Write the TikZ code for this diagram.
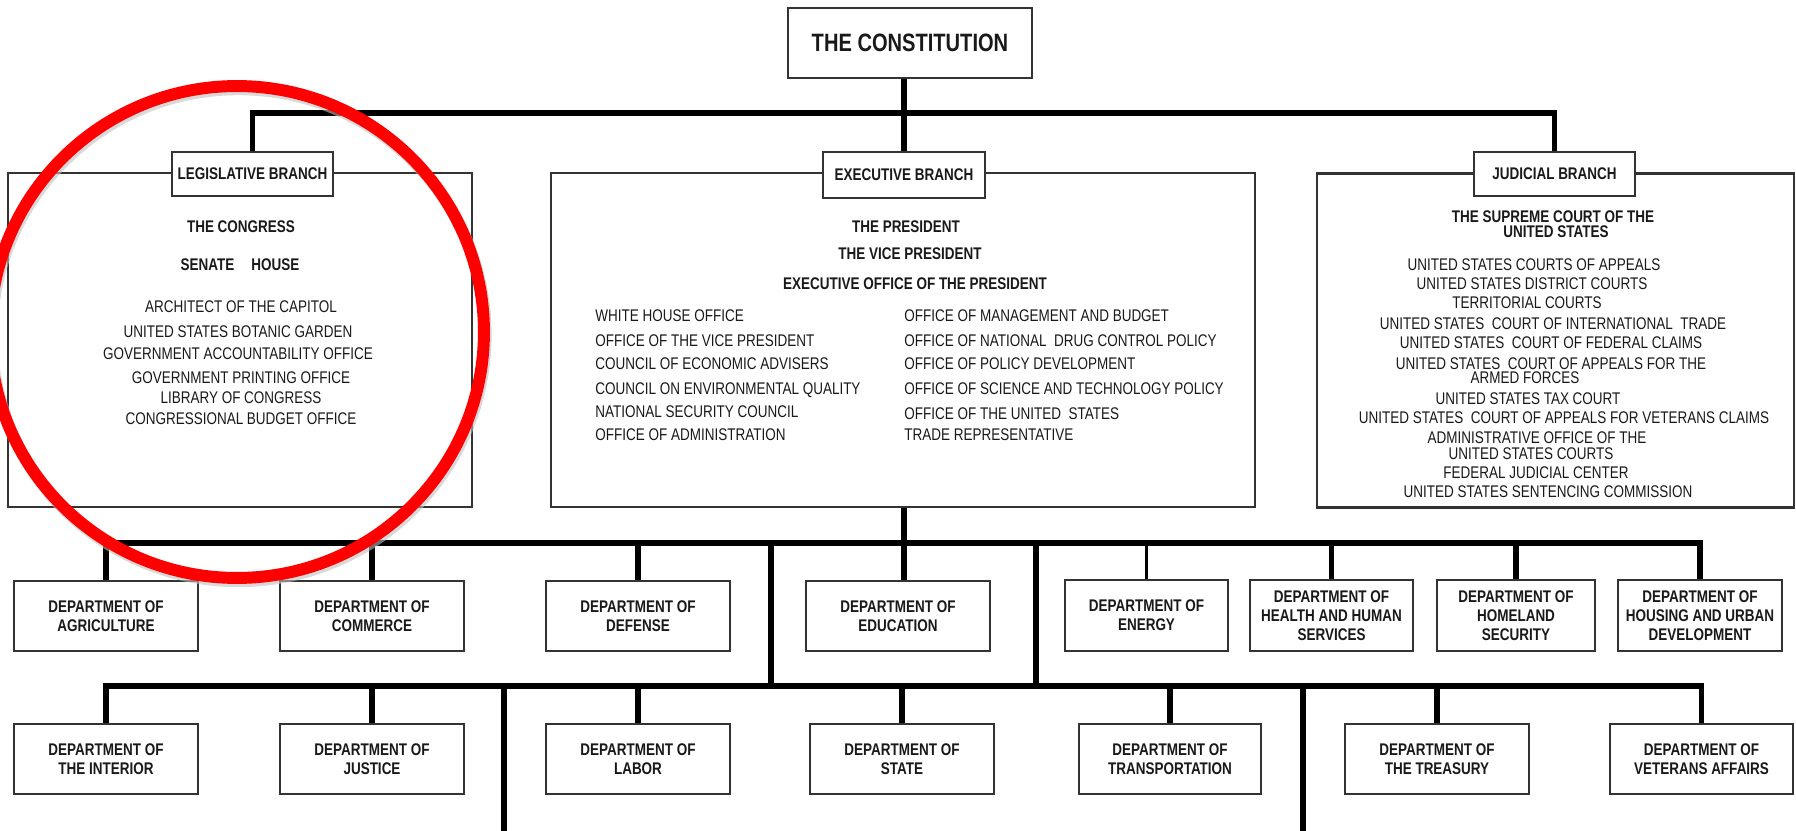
\documentclass[tikz,border=0pt]{standalone}
\usepackage{fontspec}
\setmainfont{Liberation Sans}[FakeStretch=0.8]

\tikzset{
  every node/.style={font=\fontsize{9.6}{10.8}\selectfont, text=black!90},
  box/.style={draw=black!80, line width=1.2pt, fill=white, align=center, inner sep=1pt,
    font=\fontsize{9.6}{10.8}\selectfont\bfseries},
  dept/.style={box, minimum width=3.68cm, minimum height=1.4cm},
  branchbox/.style={draw=black!80, line width=1.2pt, minimum height=6.68cm},
  txt/.style={inner sep=0pt, text height=6.9pt, text depth=0pt},
  bus/.style={line width=3.3pt},
}

\begin{document}
\begin{tikzpicture}[x=0.02cm, y=-0.02cm]
\useasboundingbox (0,0) rectangle (1796,831);

% top of the chart
\node[box, minimum width=4.88cm, minimum height=1.4cm, font=\fontsize{14.3}{16}\selectfont\bfseries] (const) at (910,43) {THE CONSTITUTION};

% the three branches
\node[branchbox, minimum width=9.28cm] (legbox) at (240,340) {};
\node[branchbox, minimum width=14.08cm] (exebox) at (903,340) {};
\node[branchbox, minimum width=9.54cm] (judbox) at (1555.5,340.5) {};
\node[box, minimum width=3.22cm, minimum height=0.88cm] (leglab) at (252.5,174) {LEGISLATIVE BRANCH};
\node[box, minimum width=3.24cm, minimum height=0.92cm] (exelab) at (904,175) {EXECUTIVE BRANCH};
\node[box, minimum width=3.22cm, minimum height=0.88cm] (judlab) at (1554.5,174) {JUDICIAL BRANCH};

% legislative
\node[txt] (congress) at (241,226) {\bfseries THE CONGRESS};
\node[txt] (senhouse) at (240,264) {\bfseries SENATE\quad HOUSE};
\node[txt] (arch) at (241,306) {ARCHITECT OF THE CAPITOL};
\node[txt] (garden) at (238,331) {UNITED STATES BOTANIC GARDEN};
\node[txt] (gao) at (238,353) {GOVERNMENT ACCOUNTABILITY OFFICE};
\node[txt] (gpo) at (241,377) {GOVERNMENT PRINTING OFFICE};
\node[txt] (library) at (241,397) {LIBRARY OF CONGRESS};
\node[txt] (cbo) at (241,418) {CONGRESSIONAL BUDGET OFFICE};

% executive
\node[txt] (pres) at (906,226) {\bfseries THE PRESIDENT};
\node[txt] (vpres) at (910,253) {\bfseries THE VICE PRESIDENT};
\node[txt] (eop) at (915,283) {\bfseries EXECUTIVE OFFICE OF THE PRESIDENT};
\node[txt, anchor=west] (whoffice) at (595,315) {WHITE HOUSE OFFICE};
\node[txt, anchor=west] (ovp) at (595,340) {OFFICE OF THE VICE PRESIDENT};
\node[txt, anchor=west] (cea) at (595,363) {COUNCIL OF ECONOMIC ADVISERS};
\node[txt, anchor=west] (ceq) at (595,388) {COUNCIL ON ENVIRONMENTAL QUALITY};
\node[txt, anchor=west] (nsc) at (595,411) {NATIONAL SECURITY COUNCIL};
\node[txt, anchor=west] (oa) at (595,434) {OFFICE OF ADMINISTRATION};
\node[txt, anchor=west] (omb) at (904,315) {OFFICE OF MANAGEMENT AND BUDGET};
\node[txt, anchor=west] (ondcp) at (904,340) {OFFICE OF NATIONAL\ \ DRUG CONTROL POLICY};
\node[txt, anchor=west] (opd) at (904,363) {OFFICE OF POLICY DEVELOPMENT};
\node[txt, anchor=west] (ostp) at (904,388) {OFFICE OF SCIENCE AND TECHNOLOGY POLICY};
\node[txt, anchor=west] (ustr) at (904,413) {OFFICE OF THE UNITED\ \ STATES};
\node[txt, anchor=west] (ustrb) at (904,434) {TRADE REPRESENTATIVE};

% judicial
\node[txt] (supreme) at (1553,216) {\bfseries THE SUPREME COURT OF THE};
\node[txt] (supremeb) at (1556,231) {\bfseries UNITED STATES};
\node[txt] (appeals) at (1534,264) {UNITED STATES COURTS OF APPEALS};
\node[txt] (district) at (1532,283) {UNITED STATES DISTRICT COURTS};
\node[txt] (territ) at (1527,302) {TERRITORIAL COURTS};
\node[txt] (trade) at (1553,323) {UNITED STATES\ \ COURT OF INTERNATIONAL\ \ TRADE};
\node[txt] (claims) at (1551,342) {UNITED STATES\ \ COURT OF FEDERAL CLAIMS};
\node[txt] (armed) at (1551,363) {UNITED STATES\ \ COURT OF APPEALS FOR THE};
\node[txt] (armedb) at (1525,377) {ARMED FORCES};
\node[txt] (tax) at (1528,398) {UNITED STATES TAX COURT};
\node[txt] (veterans) at (1564,417) {UNITED STATES\ \ COURT OF APPEALS FOR VETERANS CLAIMS};
\node[txt] (admin) at (1537,437) {ADMINISTRATIVE OFFICE OF THE};
\node[txt] (adminb) at (1531,453) {UNITED STATES COURTS};
\node[txt] (fjc) at (1536,472) {FEDERAL JUDICIAL CENTER};
\node[txt] (ussc) at (1548,491) {UNITED STATES SENTENCING COMMISSION};

% departments, first row
\node[dept] (agr) at (106,616) {DEPARTMENT OF\\AGRICULTURE};
\node[dept] (com) at (372,616) {DEPARTMENT OF\\COMMERCE};
\node[dept] (def) at (638,616) {DEPARTMENT OF\\DEFENSE};
\node[dept] (edu) at (898,616) {DEPARTMENT OF\\EDUCATION};
\node[dept, minimum width=3.26cm, minimum height=1.42cm] (ene) at (1146.5,615.5) {DEPARTMENT OF\\ENERGY};
\node[dept, minimum width=3.26cm, minimum height=1.42cm] (hhs) at (1331.5,615.5) {DEPARTMENT OF\\HEALTH AND HUMAN\\SERVICES};
\node[dept, minimum width=3.16cm, minimum height=1.42cm] (hom) at (1516,615.5) {DEPARTMENT OF\\HOMELAND\\SECURITY};
\node[dept, minimum width=3.28cm, minimum height=1.42cm] (hou) at (1700,615.5) {DEPARTMENT OF\\HOUSING AND URBAN\\DEVELOPMENT};

% departments, second row
\node[dept] (int) at (106,759) {DEPARTMENT OF\\THE INTERIOR};
\node[dept] (jus) at (372,759) {DEPARTMENT OF\\JUSTICE};
\node[dept] (lab) at (638,759) {DEPARTMENT OF\\LABOR};
\node[dept] (sta) at (902,759) {DEPARTMENT OF\\STATE};
\node[dept, minimum width=3.64cm] (tra) at (1170,759) {DEPARTMENT OF\\TRANSPORTATION};
\node[dept] (tre) at (1437,759) {DEPARTMENT OF\\THE TREASURY};
\node[dept, minimum width=3.66cm] (vet) at (1701.5,759) {DEPARTMENT OF\\VETERANS AFFAIRS};

% connectors
\coordinate (topbus) at (904,113);
\coordinate (bus1) at (904,543);
\coordinate (bus2) at (904,686);
\coordinate (t1) at (771,543);
\coordinate (t2) at (1036,543);
\coordinate (d1) at (504,831);
\coordinate (d2) at (1303,831);
\draw[bus] (exelab.north) -- (const.south -| exelab.north);
\draw[bus] (leglab.north) |- (topbus) -| (judlab.north);
\draw[bus] (exelab.north |- exebox.south) -- (edu.north -| exelab.north);
\draw[bus] (agr.north) |- (bus1) -| (hou.north);
\draw[bus] (com.north) -- (com.north |- bus1);
\draw[bus] (def.north) -- (def.north |- bus1);
\draw[line width=1.4pt] (ene.north) -- (ene.north |- bus1);
\draw[bus] (hhs.north) -- (hhs.north |- bus1);
\draw[bus] (hom.north) -- (hom.north |- bus1);
\draw[bus] (t1) -- (t1 |- bus2);
\draw[bus] (t2) -- (t2 |- bus2);
\draw[bus] (int.north) |- (bus2) -| (vet.north);
\draw[bus] (jus.north) -- (jus.north |- bus2);
\draw[bus] (lab.north) -- (lab.north |- bus2);
\draw[bus] (sta.north) -- (sta.north |- bus2);
\draw[bus] (tra.north) -- (tra.north |- bus2);
\draw[bus] (tre.north) -- (tre.north |- bus2);
\draw[bus] (d1 |- bus2) -- (d1);
\draw[bus] (d2 |- bus2) -- (d2);

% red ring round the legislative branch
\draw[black!25, opacity=0.6, line width=7pt] (238.5,335) circle [x radius=4.94cm, y radius=4.92cm];
\draw[red, line width=6.8pt] (237,332) circle [x radius=4.94cm, y radius=4.92cm];
\end{tikzpicture}
\end{document}
